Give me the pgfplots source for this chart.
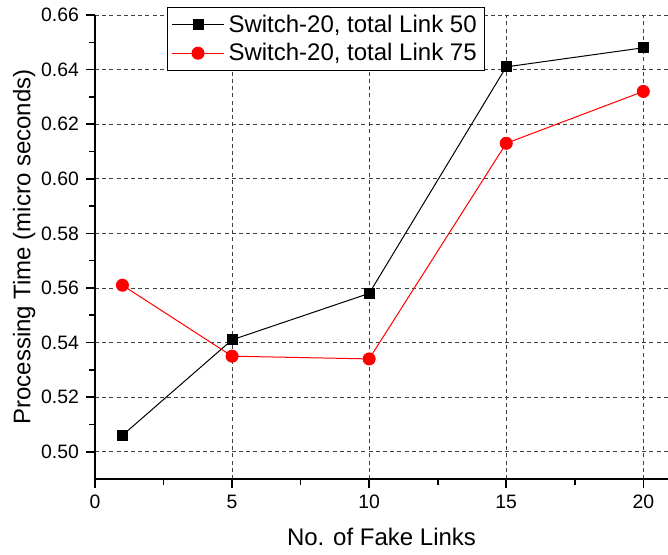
\documentclass[border=0pt]{standalone}
\usepackage{fontspec}
\setmainfont{Liberation Sans}
\usepackage{pgfplots}
\pgfplotsset{compat=1.18}

\begin{document}
\begin{tikzpicture}
\begin{axis}[
    scale only axis,
    width=286.5pt, height=232pt,
    xmin=0, xmax=20.9,
    ymin=0.49, ymax=0.66,
    axis x line=bottom, axis y line=left,
    axis line style={-, line width=0.9pt},
    xtick={0,5,10,15,20},
    ytick={0.50,0.52,0.54,0.56,0.58,0.60,0.62,0.64,0.66},
    minor x tick num=1, minor y tick num=1,
    tick align=outside,
    major tick length=4.5pt, minor tick length=2.8pt,
    tick style={black, line width=0.8pt},
    grid=major,
    major grid style={black!75, line width=0.45pt, dash pattern=on 2pt off 1.6pt},
    scaled y ticks=false,
    /pgf/number format/assume math mode=true,
    yticklabel style={/pgf/number format/fixed, /pgf/number format/fixed zerofill, /pgf/number format/precision=2},
    tick label style={font=\fontsize{9.7}{12}\selectfont},
    label style={font=\fontsize{12}{14}\selectfont},
    xlabel={No. of Fake Links},
    ylabel={Processing Time (micro seconds)},
    xlabel style={yshift=-3pt},
    ylabel style={yshift=-4pt},
    legend style={at={(0.1257,1.017)}, anchor=north west, draw=black, line width=0.5pt,
        font=\fontsize{12}{14}\selectfont, inner xsep=2pt, inner ysep=1.5pt, row sep=0pt},
    legend cell align=left,
    legend image code/.code={\draw[mark repeat=2,mark phase=2] plot coordinates {(0pt,0pt)(13pt,0pt)(26pt,0pt)};},
]
\addplot[black, line width=0.5pt, mark=square*, mark size=2.5pt] coordinates {
    (1,0.506) (5,0.541) (10,0.558) (15,0.641) (20,0.648)};
\addplot[red, line width=0.5pt, mark=*, mark size=3pt] coordinates {
    (1,0.561) (5,0.535) (10,0.534) (15,0.613) (20,0.632)};
\legend{{Switch-20, total Link 50}, {Switch-20, total Link 75}}
\end{axis}
\pgfresetboundingbox
\path (-47.5pt,-37.5pt) rectangle (286.5pt,239.5pt);
\end{tikzpicture}
\end{document}
